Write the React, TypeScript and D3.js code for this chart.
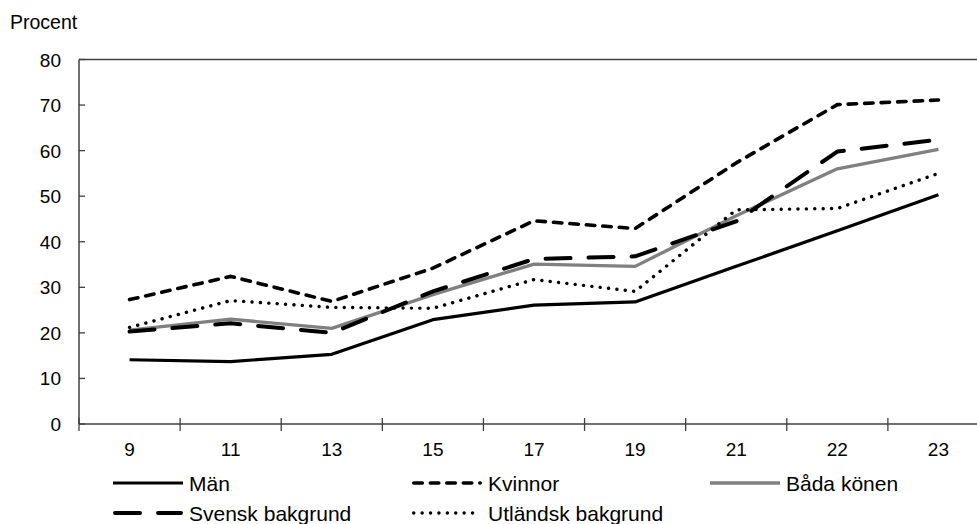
import React from "react";
import * as d3 from "d3";

const categories = ["9", "11", "13", "15", "17", "19", "21", "22", "23"];
const man = [14.1, 13.7, 15.3, 22.9, 26.1, 26.8, 34.6, 42.4, 50.3];
const kvinnor = [27.3, 32.4, 26.9, 34.2, 44.6, 42.9, 57.3, 70.1, 71.1];
const bada = [20.6, 23.0, 21.0, 28.4, 35.1, 34.6, 45.7, 56.0, 60.3];
const svensk = [20.3, 22.1, 20.0, 29.1, 36.2, 36.8, 44.5, 59.8, 62.4];
const utlandsk = [21.2, 27.1, 25.6, 25.4, 31.7, 29.1, 47.0, 47.3, 55.0];
const yTicks = [0, 10, 20, 30, 40, 50, 60, 70, 80];
const seriesNames = ["Män", "Kvinnor", "Båda könen", "Svensk bakgrund", "Utländsk bakgrund"];

const W = 977;
const H = 524;
const left = 79;
const right = 989;
const top = 59.5;
const bottom = 424;
const FONT = "Liberation Sans, Arial, sans-serif";
const FS = 19;
const LFS = 21;

type Style = { stroke: string; width: number; dash?: string; cap: "round" | "butt" };
const styles: Style[] = [
  { stroke: "#000", width: 3.2, cap: "butt" },
  { stroke: "#000", width: 3.6, dash: "8.5,8", cap: "round" },
  { stroke: "#808080", width: 3.3, cap: "butt" },
  { stroke: "#000", width: 4, dash: "25,18", cap: "round" },
  { stroke: "#000", width: 3.4, dash: "0.1,8.3", cap: "round" },
];

export default function App() {
  const x = d3.scaleBand<string>().domain(categories).range([left, right]).padding(0);
  const y = d3.scaleLinear().domain([0, 80]).range([bottom, top]);
  const cx = (c: string) => (x(c) ?? 0) + x.bandwidth() / 2;
  const line = d3
    .line<number>()
    .x((_, i) => cx(categories[i]))
    .y((d) => y(d));
  const data = [man, kvinnor, bada, svensk, utlandsk];
  const order = [2, 0, 4, 3, 1];
  const boundaries = categories.map((c) => x(c) ?? 0).concat([right]);
  const legendCols = [113, 412, 710];
  const legendRows = [483, 513];

  return (
    <svg
      width={W}
      height={H}
      style={{ position: "absolute", left: 0, top: 0, background: "#fff" }}
      fontFamily={FONT}
    >
      <rect x={0} y={0} width={W} height={H} fill="#fff" />
      <text x={10} y={29} fontSize={19.5} fill="#000">
        Procent
      </text>
      <line x1={left} x2={right} y1={top} y2={top} stroke="#404040" strokeWidth={1.5} />
      <line x1={left} x2={left} y1={top} y2={bottom} stroke="#404040" strokeWidth={1.5} />
      {yTicks.map((t) => (
        <g key={t}>
          <line x1={left} x2={left + 6} y1={y(t)} y2={y(t)} stroke="#404040" strokeWidth={1.3} />
          <text x={61} y={y(t) + 7} textAnchor="end" fontSize={FS} fill="#000">
            {t}
          </text>
        </g>
      ))}
      <line x1={left} x2={right} y1={bottom} y2={bottom} stroke="#404040" strokeWidth={1.5} />
      {boundaries.map((b, i) => (
        <line key={i} x1={b} x2={b} y1={bottom - 6} y2={bottom + 7} stroke="#404040" strokeWidth={1.3} />
      ))}
      {categories.map((c) => (
        <text key={c} x={cx(c)} y={456} textAnchor="middle" fontSize={FS} fill="#000">
          {c}
        </text>
      ))}
      {order.map((k) => (
        <path
          key={k}
          d={line(data[k]) ?? ""}
          fill="none"
          stroke={styles[k].stroke}
          strokeWidth={styles[k].width}
          strokeDasharray={styles[k].dash}
          strokeLinecap={styles[k].cap}
          strokeLinejoin="round"
        />
      ))}
      {seriesNames.map((name, i) => {
        const col = i % 3;
        const row = Math.floor(i / 3);
        const lx = legendCols[col];
        const ly = legendRows[row];
        const s = styles[i];
        return (
          <g key={name}>
            <line
              x1={lx + (s.cap === "round" ? s.width / 2 : 0)}
              x2={lx + 70 - (s.cap === "round" ? s.width / 2 : 0)}
              y1={ly}
              y2={ly}
              stroke={s.stroke}
              strokeWidth={s.width}
              strokeDasharray={s.dash}
              strokeLinecap={s.cap}
            />
            <text x={lx + 76} y={ly + 7.5} fontSize={LFS} fill="#000">
              {name}
            </text>
          </g>
        );
      })}
    </svg>
  );
}
